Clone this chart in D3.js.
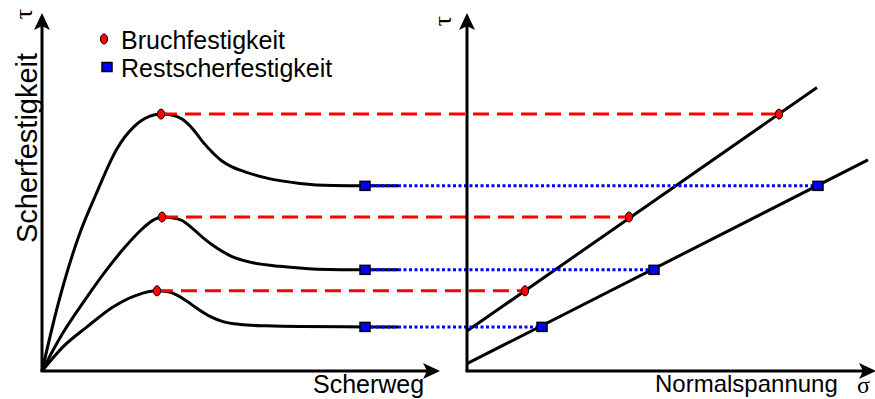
<!DOCTYPE html>
<html>
<head>
<meta charset="utf-8">
<script src="https://cdn.jsdelivr.net/npm/d3@7"></script>
<style>
  html, body { margin: 0; padding: 0; background: #fff; }
  svg { display: block; }
  text { font-family: "Liberation Sans", Arial, sans-serif; fill: #000; }
</style>
</head>
<body>
<svg id="chart" width="875" height="399"></svg>
<script>
// Shear test curves: shear displacement (Scherweg) vs. shear stress (tau)
const curveTop = [[0,0],[4,19],[9.5,39.5],[13.5,50.5],[18.75,63.5],[23,69.8],[27,72.8],[29.75,73.4],[32.5,73.1],[35,72],[37.75,69.1],[40.25,65.4],[42.75,62.3],[45,60],[47.5,58.3],[50.75,56.9],[56.25,55.1],[64.5,53.6],[72.75,53],[80.75,52.9],[89,52.9]];
const curveMid = [[0,0],[5.25,10.9],[10.75,20.3],[15.75,28.3],[20.75,35.4],[24.5,40],[27.5,42.9],[30,44],[32.5,43.8],[35,43],[37.75,40.6],[40.75,37.6],[44,34.9],[47.5,32.7],[52,31.1],[59.5,29.9],[68.75,29.1],[80.75,28.9],[89,28.9]];
const curveLow = [[0,0],[5.25,6.9],[11.25,12.6],[17.75,18.3],[23.75,21.7],[28.75,22.9],[31.25,22.7],[33.75,21.7],[36.25,19.9],[39,17.7],[42,15.6],[45.25,14.1],[49.5,13.3],[56.25,12.9],[64.5,12.7],[80.75,12.6],[89,12.6]];
const shearCurves = [curveTop, curveMid, curveLow];

// Peak strength (Bruchfestigkeit) and residual strength (Restscherfestigkeit)
const peakShear = [29.75, 30, 28.75];
const peakTau = [73.4, 44, 22.9];
const residualShear = [80.75, 80.75, 80.75];
const residualTau = [52.9, 28.9, 12.6];

// Normal stress of each test (sigma)
const peakSigma = [78, 40.5, 14.5];
const residualSigma = [87.75, 46.75, 18.75];

// Failure envelopes: [sigma, tau] end points
const peakEnvelope = [[0, 11.4], [87.5, 81]];
const residualEnvelope = [[0, 2.1], [100.25, 60.3]];

// Texts
const legendLabels = ["Bruchfestigkeit", "Restscherfestigkeit"];
const leftXLabel = "Scherweg";
const leftYLabel = "Scherfestigkeit";
const rightXLabel = "Normalspannung";
const tauSymbol = "\u03C4";
const sigmaSymbol = "\u03C3";

const svg = d3.select("#chart");

// Scales
const xShear = d3.scaleLinear().domain([0, 100]).range([42, 442]);
const xSigma = d3.scaleLinear().domain([0, 100]).range([467, 867]);
const yTau = d3.scaleLinear().domain([0, 100]).range([371, 21]);

const RED = "#ff0000", BLUE = "#0000ff";

// Curves
const line = d3.line()
  .x(d => xShear(d[0]))
  .y(d => yTau(d[1]))
  .curve(d3.curveMonotoneX);

svg.append("g").selectAll("path")
  .data(shearCurves)
  .join("path")
  .attr("d", line)
  .attr("fill", "none")
  .attr("stroke", "#000")
  .attr("stroke-width", 3)
  .attr("stroke-linejoin", "round");

// Envelope lines
const envLine = d3.line().x(d => xSigma(d[0])).y(d => yTau(d[1]));
svg.append("g").selectAll("path")
  .data([peakEnvelope, residualEnvelope])
  .join("path")
  .attr("d", envLine)
  .attr("fill", "none")
  .attr("stroke", "#000")
  .attr("stroke-width", 3);

// Connecting lines
svg.append("g").selectAll("line")
  .data(d3.range(3))
  .join("line")
  .attr("x1", i => xShear(peakShear[i]))
  .attr("x2", i => xSigma(peakSigma[i]))
  .attr("y1", i => yTau(peakTau[i]))
  .attr("y2", i => yTau(peakTau[i]))
  .attr("stroke", RED)
  .attr("stroke-width", 3)
  .attr("stroke-dasharray", "16,8");

svg.append("g").selectAll("line")
  .data(d3.range(3))
  .join("line")
  .attr("x1", i => xShear(residualShear[i]))
  .attr("x2", i => xSigma(residualSigma[i]))
  .attr("y1", i => yTau(residualTau[i]))
  .attr("y2", i => yTau(residualTau[i]))
  .attr("stroke", BLUE)
  .attr("stroke-width", 3)
  .attr("stroke-dasharray", "3,2.5");

// Axes with arrowheads
function axis(x1, y1, x2, y2) {
  svg.append("line")
    .attr("x1", x1).attr("y1", y1).attr("x2", x2).attr("y2", y2)
    .attr("stroke", "#000").attr("stroke-width", 3);
}
function arrowUp(x, y) {
  svg.append("path")
    .attr("d", `M${x},${y} L${x + 8},${y + 17} L${x},${y + 13} L${x - 8},${y + 17} Z`)
    .attr("fill", "#000");
}
function arrowRight(x, y) {
  svg.append("path")
    .attr("d", `M${x},${y} L${x - 17},${y - 8} L${x - 13},${y} L${x - 17},${y + 8} Z`)
    .attr("fill", "#000");
}
const x0L = xShear(0), x0R = xSigma(0), y0 = yTau(0);
axis(x0L, y0, x0L, 24); arrowUp(x0L, 13);
axis(x0L - 1.5, y0, 430, y0); arrowRight(440, y0);
axis(x0R, y0, x0R, 24); arrowUp(x0R, 13);
axis(x0R - 1.5, y0, 866, y0); arrowRight(876, y0);

// Markers
function ellipse(g, cx, cy) {
  g.append("ellipse").attr("cx", cx).attr("cy", cy)
    .attr("rx", 3.6).attr("ry", 5)
    .attr("fill", RED).attr("stroke", "#000").attr("stroke-width", 1);
}
function square(g, cx, cy) {
  g.append("rect").attr("x", cx - 5).attr("y", cy - 4.5)
    .attr("width", 10).attr("height", 9)
    .attr("fill", BLUE).attr("stroke", "#000").attr("stroke-width", 1.5);
}
const mk = svg.append("g");
for (let i = 0; i < 3; i++) {
  ellipse(mk, xShear(peakShear[i]), yTau(peakTau[i]));
  ellipse(mk, xSigma(peakSigma[i]), yTau(peakTau[i]));
  square(mk, xShear(residualShear[i]), yTau(residualTau[i]));
  square(mk, xSigma(residualSigma[i]), yTau(residualTau[i]));
}

// Legend
ellipse(mk, 104, 39);
square(mk, 107, 67);
svg.append("text").attr("x", 121).attr("y", 49).attr("font-size", 25).text(legendLabels[0]);
svg.append("text").attr("x", 121).attr("y", 77).attr("font-size", 25).text(legendLabels[1]);

// Axis titles
svg.append("text").attr("x", 313).attr("y", 393).attr("font-size", 25).text(leftXLabel);
svg.append("text").attr("x", 655).attr("y", 392).attr("font-size", 24).text(rightXLabel);
svg.append("text")
  .attr("transform", "translate(37,148) rotate(-90)")
  .attr("text-anchor", "middle")
  .attr("font-size", 29)
  .text(leftYLabel);
svg.append("text")
  .attr("transform", "translate(32,14) rotate(-90)")
  .attr("text-anchor", "middle")
  .attr("font-size", 26)
  .style("font-family", "'Liberation Serif', serif")
  .text(tauSymbol);
svg.append("text")
  .attr("transform", "translate(451,21) rotate(-90)")
  .attr("text-anchor", "middle")
  .attr("font-size", 26)
  .style("font-family", "'Liberation Serif', serif")
  .text(tauSymbol);
svg.append("text")
  .attr("x", 857).attr("y", 393)
  .attr("font-size", 24)
  .style("font-family", "'Liberation Serif', serif")
  .text(sigmaSymbol);
</script>
</body>
</html>
